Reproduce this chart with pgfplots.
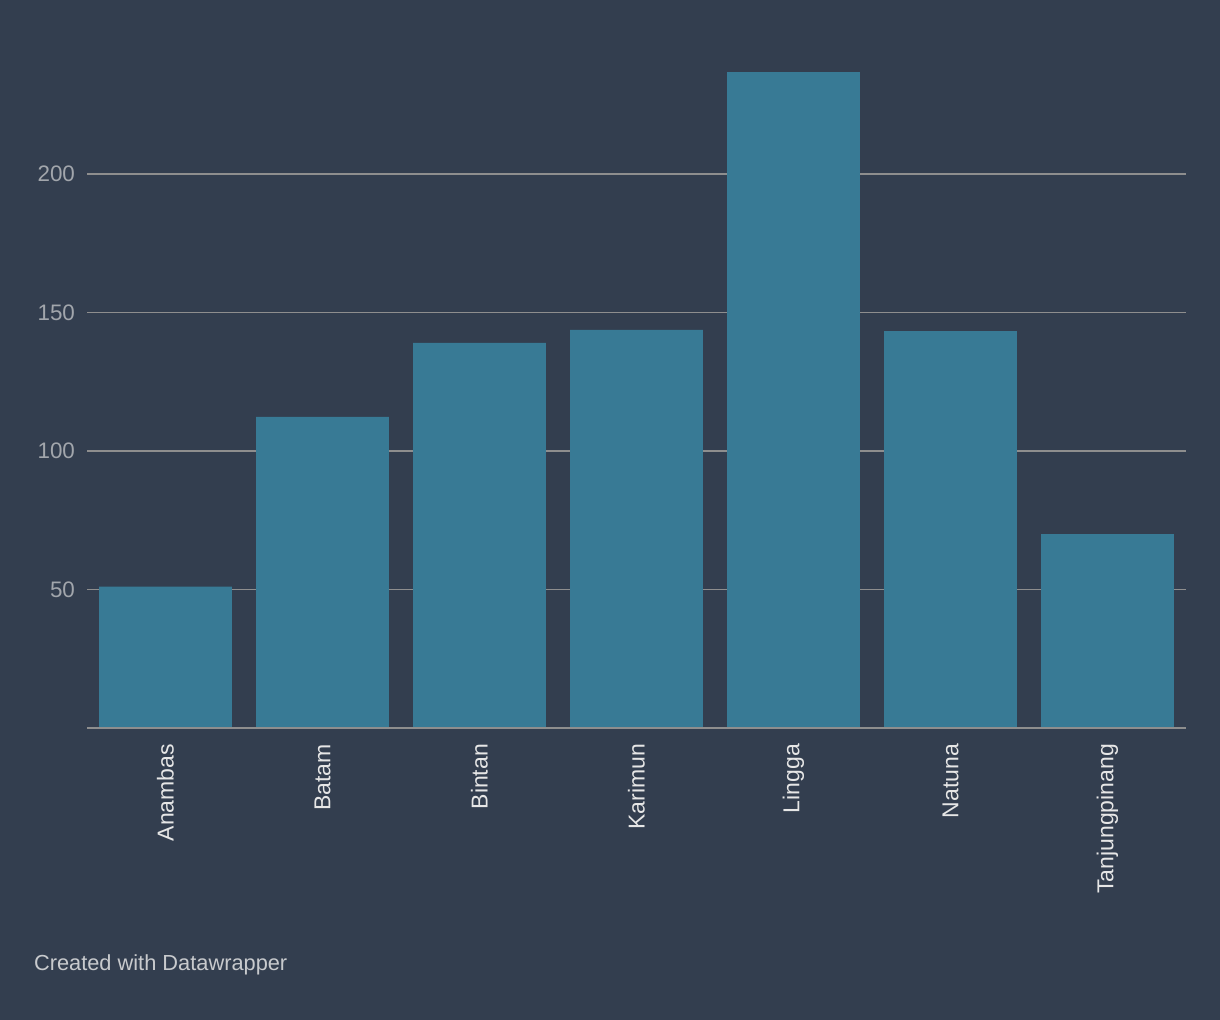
\documentclass[border=0pt]{standalone}
\usepackage{pgfplots}
\pgfplotsset{compat=1.18}
\usepackage{fontspec}
\setmainfont{Liberation Sans}
\definecolor{bgc}{HTML}{333E4F}
\definecolor{barc}{HTML}{387A95}
\definecolor{gridc}{HTML}{8E8E8E}
\definecolor{ytickc}{HTML}{A2A6AC}
\definecolor{xtickc}{HTML}{E6E6E6}
\definecolor{footc}{HTML}{C8CACD}
\begin{document}
\begin{tikzpicture}
  % background, 1 px = 0.5 pt
  \fill[bgc] (0,0) rectangle (610pt,510pt);
  \begin{axis}[
    at={(43.5pt,146pt)}, anchor=south west,
    scale only axis,
    width=549.5pt, height=332.4pt,
    xmin=-0.5, xmax=6.5,
    ymin=0, ymax=240,
    axis line style={draw=none},
    ybar, bar width=0.847, bar shift=0pt,
    xtick=data,
    xticklabels={Anambas,Batam,Bintan,Karimun,Lingga,Natuna,Tanjungpinang},
    ytick={50,100,150,200},
    /pgf/number format/assume math mode=true,
    ymajorgrids=true,
    grid style={gridc, line width=0.8pt},
    major tick length=0pt,
    tick style={draw=none},
    xticklabel style={rotate=90, anchor=east, font=\fontsize{11.5}{13}\selectfont, text=xtickc, xshift=-4.5pt},
    yticklabel style={anchor=east, font=\fontsize{11.2}{13}\selectfont, text=ytickc, xshift=-2.5pt},
    clip=false,
  ]
    \addplot[fill=barc, draw=none] coordinates {
      (0, 51) (1, 112.3) (2, 139) (3, 143.7) (4, 236.8) (5, 143.3) (6, 70)
    };
    \draw[gridc, line width=0.8pt] (axis cs:-0.5,0) -- (axis cs:6.5,0);
  \end{axis}
  \node[anchor=west, text=footc, font=\fontsize{10.9}{13}\selectfont] at (13.5pt,27.5pt) {Created with Datawrapper};
\end{tikzpicture}
\end{document}
